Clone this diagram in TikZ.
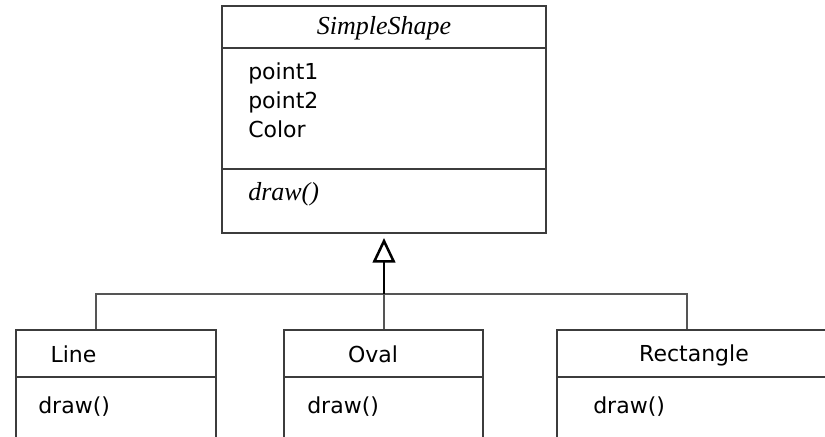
\documentclass[tikz,border=0pt]{standalone}
\usepackage{fontspec}
\setmainfont{Liberation Serif}
\newfontfamily\uifont{DejaVu Sans}
\usetikzlibrary{arrows.meta}
\definecolor{edge}{HTML}{3C3C3C}
\definecolor{wire}{HTML}{555555}
\tikzset{
  classbox/.style={draw=edge, line width=1.5pt, inner sep=0pt},
  member/.style={anchor=base west, inner sep=0pt, font=\uifont\fontsize{16.5}{18}\selectfont},
  title/.style={anchor=base, inner sep=0pt, font=\uifont\fontsize{16.5}{18}\selectfont},
  optitle/.style={inner sep=0pt, font=\itshape\fontsize{19.5}{22}\selectfont},
  rule/.style={draw=edge, line width=1.5pt},
  link/.style={draw=wire, line width=1.5pt},
  inherit/.style={draw=black, line width=2.2pt, -{Triangle[open, length=18.5pt, width=17pt, line width=1.9pt]}}
}
\begin{document}
\begin{tikzpicture}[x=0.75pt, y=-0.75pt]
  \clip (0,0) rectangle (825,436);
  \fill[white] (0,0) rectangle (825,436);

  % abstract base class
  \node[classbox, minimum width=243pt, minimum height=170.25pt] (ss) at (384,119.5) {};
  \draw[rule] (222,48) -- (546,48);
  \draw[rule] (222,169) -- (546,169);
  \node[optitle, anchor=base] (ssname) at (384,34) {SimpleShape};
  \node[member] (p1) at (248,79) {point1};
  \node[member] (p2) at (248,108) {point2};
  \node[member] (col) at (248,137.5) {Color};
  \node[optitle, anchor=base west] (ssdraw) at (248,200) {draw()};

  % subclasses (their lower edges run past the page)
  \node[classbox, minimum width=150pt, minimum height=112.5pt] (line) at (116,405) {};
  \node[classbox, minimum width=149.25pt, minimum height=112.5pt] (oval) at (383.5,405) {};
  \node[classbox, minimum width=204.75pt, minimum height=112.5pt] (rect) at (693.5,405) {};
  \draw[rule] (16,377) -- (216,377);
  \draw[rule] (284,377) -- (483,377);
  \draw[rule] (557,377) -- (830,377);

  \node[title] (linename) at (73.5,362) {Line};
  \node[title] (ovalname) at (373,362) {Oval};
  \node[title] (rectname) at (694,361) {Rectangle};
  \node[member] (linedraw) at (38,413) {draw()};
  \node[member] (ovaldraw) at (307,413) {draw()};
  \node[member] (rectdraw) at (593,413) {draw()};

  % generalization tree
  \coordinate (bus) at (384,294);
  \draw[link] (line.north -| 96,0) |- (bus);
  \draw[link] (rect.north -| 687,0) |- (bus);
  \draw[link] (oval.north -| 384,0) -- (bus);
  \draw[inherit] (bus) -- ([yshift=-3pt]ss.south);
\end{tikzpicture}
\end{document}
